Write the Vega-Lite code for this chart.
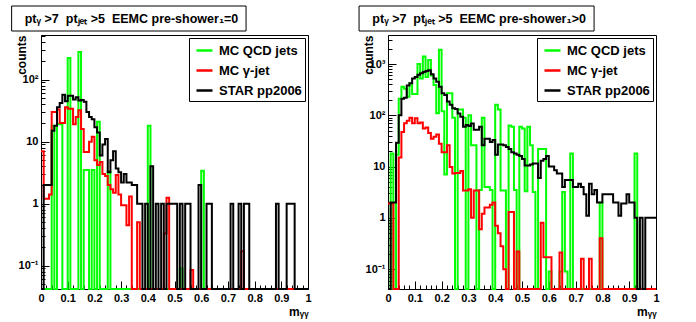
{
  "$schema": "https://vega.github.io/schema/vega-lite/v6.json",
  "background": "white",
  "padding": {"left": 11, "top": 5, "right": 5, "bottom": 2},
  "config": {
    "view": {"stroke": "black", "strokeWidth": 1},
    "font": "Liberation Sans",
    "axis": {"labelFont": "Liberation Sans", "labelFontWeight": "bold", "labelFontSize": 11, "labelColor": "black", "titleFont": "Liberation Sans", "titleFontWeight": "bold", "titleFontSize": 12, "titleColor": "black", "domainColor": "black", "tickColor": "black", "grid": false, "labelOverlap": false, "labelFlush": false}
  },
  "datasets": {
    "left": [
      {"m":0.00,"MC QCD jets":0,"MC γ-jet":7,"STAR pp2006":0},
      {"m":0.01,"MC QCD jets":0,"MC γ-jet":1.2,"STAR pp2006":2},
      {"m":0.02,"MC QCD jets":0,"MC γ-jet":1.2,"STAR pp2006":2},
      {"m":0.03,"MC QCD jets":0,"MC γ-jet":1.4,"STAR pp2006":2},
      {"m":0.04,"MC QCD jets":18,"MC γ-jet":30,"STAR pp2006":15},
      {"m":0.05,"MC QCD jets":0,"MC γ-jet":30,"STAR pp2006":18},
      {"m":0.06,"MC QCD jets":19,"MC γ-jet":33,"STAR pp2006":36},
      {"m":0.07,"MC QCD jets":19,"MC γ-jet":20,"STAR pp2006":42},
      {"m":0.08,"MC QCD jets":0,"MC γ-jet":20,"STAR pp2006":57},
      {"m":0.09,"MC QCD jets":0,"MC γ-jet":36,"STAR pp2006":45},
      {"m":0.10,"MC QCD jets":224,"MC γ-jet":34,"STAR pp2006":55},
      {"m":0.11,"MC QCD jets":0,"MC γ-jet":34,"STAR pp2006":55},
      {"m":0.12,"MC QCD jets":0,"MC γ-jet":19,"STAR pp2006":48},
      {"m":0.13,"MC QCD jets":0,"MC γ-jet":25,"STAR pp2006":52},
      {"m":0.14,"MC QCD jets":280,"MC γ-jet":32,"STAR pp2006":46},
      {"m":0.15,"MC QCD jets":0,"MC γ-jet":16,"STAR pp2006":47},
      {"m":0.16,"MC QCD jets":3.5,"MC γ-jet":6.8,"STAR pp2006":44},
      {"m":0.17,"MC QCD jets":3.5,"MC γ-jet":6.8,"STAR pp2006":30},
      {"m":0.18,"MC QCD jets":0,"MC γ-jet":10,"STAR pp2006":25},
      {"m":0.19,"MC QCD jets":3.5,"MC γ-jet":12,"STAR pp2006":23},
      {"m":0.20,"MC QCD jets":0,"MC γ-jet":5,"STAR pp2006":17},
      {"m":0.21,"MC QCD jets":21,"MC γ-jet":4.2,"STAR pp2006":14},
      {"m":0.22,"MC QCD jets":0,"MC γ-jet":4.7,"STAR pp2006":6},
      {"m":0.23,"MC QCD jets":0,"MC γ-jet":3,"STAR pp2006":9},
      {"m":0.24,"MC QCD jets":0,"MC γ-jet":2.8,"STAR pp2006":11},
      {"m":0.25,"MC QCD jets":3.3,"MC γ-jet":2,"STAR pp2006":3.2},
      {"m":0.26,"MC QCD jets":0,"MC γ-jet":1.7,"STAR pp2006":5},
      {"m":0.27,"MC QCD jets":0,"MC γ-jet":1.5,"STAR pp2006":7},
      {"m":0.28,"MC QCD jets":0,"MC γ-jet":2.9,"STAR pp2006":3.7},
      {"m":0.29,"MC QCD jets":0,"MC γ-jet":1.4,"STAR pp2006":3.2},
      {"m":0.30,"MC QCD jets":0,"MC γ-jet":0.94,"STAR pp2006":2.2},
      {"m":0.31,"MC QCD jets":0,"MC γ-jet":0.94,"STAR pp2006":3},
      {"m":0.32,"MC QCD jets":0,"MC γ-jet":0.45,"STAR pp2006":2.2},
      {"m":0.33,"MC QCD jets":0,"MC γ-jet":1.3,"STAR pp2006":2.2},
      {"m":0.34,"MC QCD jets":0,"MC γ-jet":0,"STAR pp2006":2},
      {"m":0.35,"MC QCD jets":0,"MC γ-jet":0,"STAR pp2006":2},
      {"m":0.36,"MC QCD jets":0,"MC γ-jet":0.5,"STAR pp2006":1},
      {"m":0.37,"MC QCD jets":0,"MC γ-jet":0,"STAR pp2006":1},
      {"m":0.38,"MC QCD jets":0,"MC γ-jet":0,"STAR pp2006":0},
      {"m":0.39,"MC QCD jets":0,"MC γ-jet":0,"STAR pp2006":1},
      {"m":0.40,"MC QCD jets":18,"MC γ-jet":0,"STAR pp2006":0},
      {"m":0.41,"MC QCD jets":0,"MC γ-jet":0,"STAR pp2006":4},
      {"m":0.42,"MC QCD jets":0,"MC γ-jet":0,"STAR pp2006":0},
      {"m":0.43,"MC QCD jets":0,"MC γ-jet":0,"STAR pp2006":1},
      {"m":0.44,"MC QCD jets":0,"MC γ-jet":0,"STAR pp2006":0},
      {"m":0.45,"MC QCD jets":0,"MC γ-jet":0,"STAR pp2006":1},
      {"m":0.46,"MC QCD jets":0,"MC γ-jet":0.33,"STAR pp2006":0},
      {"m":0.47,"MC QCD jets":0,"MC γ-jet":1.25,"STAR pp2006":1},
      {"m":0.48,"MC QCD jets":0,"MC γ-jet":0,"STAR pp2006":1},
      {"m":0.49,"MC QCD jets":0,"MC γ-jet":0,"STAR pp2006":1},
      {"m":0.50,"MC QCD jets":0,"MC γ-jet":0,"STAR pp2006":1},
      {"m":0.51,"MC QCD jets":0,"MC γ-jet":0,"STAR pp2006":0},
      {"m":0.52,"MC QCD jets":0.09,"MC γ-jet":0,"STAR pp2006":1},
      {"m":0.53,"MC QCD jets":0,"MC γ-jet":0,"STAR pp2006":0},
      {"m":0.54,"MC QCD jets":0,"MC γ-jet":0,"STAR pp2006":1},
      {"m":0.55,"MC QCD jets":0,"MC γ-jet":0,"STAR pp2006":1},
      {"m":0.56,"MC QCD jets":0,"MC γ-jet":0.085,"STAR pp2006":0},
      {"m":0.57,"MC QCD jets":0,"MC γ-jet":0,"STAR pp2006":0},
      {"m":0.58,"MC QCD jets":0,"MC γ-jet":0,"STAR pp2006":0},
      {"m":0.59,"MC QCD jets":0,"MC γ-jet":0,"STAR pp2006":2},
      {"m":0.60,"MC QCD jets":3.4,"MC γ-jet":0,"STAR pp2006":0},
      {"m":0.61,"MC QCD jets":0,"MC γ-jet":0,"STAR pp2006":0},
      {"m":0.62,"MC QCD jets":0,"MC γ-jet":0,"STAR pp2006":1},
      {"m":0.63,"MC QCD jets":0,"MC γ-jet":0,"STAR pp2006":1},
      {"m":0.64,"MC QCD jets":0,"MC γ-jet":0,"STAR pp2006":0},
      {"m":0.65,"MC QCD jets":0,"MC γ-jet":0,"STAR pp2006":0},
      {"m":0.66,"MC QCD jets":0,"MC γ-jet":0,"STAR pp2006":0},
      {"m":0.67,"MC QCD jets":0,"MC γ-jet":0,"STAR pp2006":0},
      {"m":0.68,"MC QCD jets":0,"MC γ-jet":0,"STAR pp2006":0},
      {"m":0.69,"MC QCD jets":0,"MC γ-jet":0,"STAR pp2006":0},
      {"m":0.70,"MC QCD jets":0,"MC γ-jet":0,"STAR pp2006":0},
      {"m":0.71,"MC QCD jets":0,"MC γ-jet":0,"STAR pp2006":1},
      {"m":0.72,"MC QCD jets":0,"MC γ-jet":0,"STAR pp2006":0},
      {"m":0.73,"MC QCD jets":0,"MC γ-jet":0,"STAR pp2006":0},
      {"m":0.74,"MC QCD jets":0,"MC γ-jet":0,"STAR pp2006":1},
      {"m":0.75,"MC QCD jets":0,"MC γ-jet":0.17,"STAR pp2006":0},
      {"m":0.76,"MC QCD jets":0,"MC γ-jet":0,"STAR pp2006":1},
      {"m":0.77,"MC QCD jets":0,"MC γ-jet":0,"STAR pp2006":1},
      {"m":0.78,"MC QCD jets":0,"MC γ-jet":0,"STAR pp2006":0},
      {"m":0.79,"MC QCD jets":0,"MC γ-jet":0,"STAR pp2006":0},
      {"m":0.80,"MC QCD jets":0,"MC γ-jet":0,"STAR pp2006":0},
      {"m":0.81,"MC QCD jets":0,"MC γ-jet":0,"STAR pp2006":0},
      {"m":0.82,"MC QCD jets":0,"MC γ-jet":0,"STAR pp2006":0},
      {"m":0.83,"MC QCD jets":0,"MC γ-jet":0,"STAR pp2006":0},
      {"m":0.84,"MC QCD jets":0,"MC γ-jet":0,"STAR pp2006":0},
      {"m":0.85,"MC QCD jets":0,"MC γ-jet":0,"STAR pp2006":0},
      {"m":0.86,"MC QCD jets":0,"MC γ-jet":0,"STAR pp2006":0},
      {"m":0.87,"MC QCD jets":0,"MC γ-jet":0,"STAR pp2006":0},
      {"m":0.88,"MC QCD jets":0,"MC γ-jet":0,"STAR pp2006":1},
      {"m":0.89,"MC QCD jets":0,"MC γ-jet":0,"STAR pp2006":0},
      {"m":0.90,"MC QCD jets":0,"MC γ-jet":0,"STAR pp2006":0},
      {"m":0.91,"MC QCD jets":0,"MC γ-jet":0,"STAR pp2006":0},
      {"m":0.92,"MC QCD jets":0,"MC γ-jet":0,"STAR pp2006":1},
      {"m":0.93,"MC QCD jets":0,"MC γ-jet":0,"STAR pp2006":1},
      {"m":0.94,"MC QCD jets":0,"MC γ-jet":0,"STAR pp2006":1},
      {"m":0.95,"MC QCD jets":0,"MC γ-jet":0,"STAR pp2006":0},
      {"m":0.96,"MC QCD jets":0,"MC γ-jet":0,"STAR pp2006":0},
      {"m":0.97,"MC QCD jets":0,"MC γ-jet":0,"STAR pp2006":0},
      {"m":0.98,"MC QCD jets":0,"MC γ-jet":0,"STAR pp2006":0},
      {"m":0.99,"MC QCD jets":0,"MC γ-jet":0,"STAR pp2006":0},
      {"m":1.00,"MC QCD jets":0,"MC γ-jet":0,"STAR pp2006":0}
    ],
    "right": [
      {"m":0.00,"MC QCD jets":0,"MC γ-jet":1.9,"STAR pp2006":0},
      {"m":0.01,"MC QCD jets":18,"MC γ-jet":1.9,"STAR pp2006":2},
      {"m":0.02,"MC QCD jets":0,"MC γ-jet":0,"STAR pp2006":2},
      {"m":0.03,"MC QCD jets":17,"MC γ-jet":0,"STAR pp2006":29},
      {"m":0.04,"MC QCD jets":210,"MC γ-jet":15,"STAR pp2006":100},
      {"m":0.05,"MC QCD jets":360,"MC γ-jet":47,"STAR pp2006":210},
      {"m":0.06,"MC QCD jets":330,"MC γ-jet":70,"STAR pp2006":220},
      {"m":0.07,"MC QCD jets":230,"MC γ-jet":78,"STAR pp2006":380},
      {"m":0.08,"MC QCD jets":420,"MC γ-jet":90,"STAR pp2006":420},
      {"m":0.09,"MC QCD jets":260,"MC γ-jet":70,"STAR pp2006":520},
      {"m":0.10,"MC QCD jets":260,"MC γ-jet":88,"STAR pp2006":560},
      {"m":0.11,"MC QCD jets":1000,"MC γ-jet":70,"STAR pp2006":620},
      {"m":0.12,"MC QCD jets":520,"MC γ-jet":72,"STAR pp2006":660},
      {"m":0.13,"MC QCD jets":1400,"MC γ-jet":55,"STAR pp2006":700},
      {"m":0.14,"MC QCD jets":560,"MC γ-jet":58,"STAR pp2006":730},
      {"m":0.15,"MC QCD jets":1200,"MC γ-jet":45,"STAR pp2006":760},
      {"m":0.16,"MC QCD jets":600,"MC γ-jet":35,"STAR pp2006":630},
      {"m":0.17,"MC QCD jets":390,"MC γ-jet":38,"STAR pp2006":520},
      {"m":0.18,"MC QCD jets":110,"MC γ-jet":42,"STAR pp2006":450},
      {"m":0.19,"MC QCD jets":1900,"MC γ-jet":28,"STAR pp2006":360},
      {"m":0.20,"MC QCD jets":120,"MC γ-jet":19,"STAR pp2006":270},
      {"m":0.21,"MC QCD jets":7,"MC γ-jet":19,"STAR pp2006":250},
      {"m":0.22,"MC QCD jets":270,"MC γ-jet":26,"STAR pp2006":185},
      {"m":0.23,"MC QCD jets":270,"MC γ-jet":9.8,"STAR pp2006":160},
      {"m":0.24,"MC QCD jets":90,"MC γ-jet":7.3,"STAR pp2006":137},
      {"m":0.25,"MC QCD jets":0,"MC γ-jet":7.5,"STAR pp2006":132},
      {"m":0.26,"MC QCD jets":130,"MC γ-jet":7.5,"STAR pp2006":109},
      {"m":0.27,"MC QCD jets":130,"MC γ-jet":8.2,"STAR pp2006":94},
      {"m":0.28,"MC QCD jets":90,"MC γ-jet":3.4,"STAR pp2006":60},
      {"m":0.29,"MC QCD jets":0,"MC γ-jet":3.4,"STAR pp2006":65},
      {"m":0.30,"MC QCD jets":100,"MC γ-jet":3.6,"STAR pp2006":62},
      {"m":0.31,"MC QCD jets":26,"MC γ-jet":1,"STAR pp2006":69},
      {"m":0.32,"MC QCD jets":26,"MC γ-jet":3.4,"STAR pp2006":52},
      {"m":0.33,"MC QCD jets":0,"MC γ-jet":3.4,"STAR pp2006":52},
      {"m":0.34,"MC QCD jets":3.5,"MC γ-jet":0.6,"STAR pp2006":60},
      {"m":0.35,"MC QCD jets":90,"MC γ-jet":1.2,"STAR pp2006":26},
      {"m":0.36,"MC QCD jets":4,"MC γ-jet":1.6,"STAR pp2006":35},
      {"m":0.37,"MC QCD jets":4,"MC γ-jet":1.6,"STAR pp2006":35},
      {"m":0.38,"MC QCD jets":3.5,"MC γ-jet":1.8,"STAR pp2006":30},
      {"m":0.39,"MC QCD jets":0,"MC γ-jet":2,"STAR pp2006":33},
      {"m":0.40,"MC QCD jets":160,"MC γ-jet":0.7,"STAR pp2006":17},
      {"m":0.41,"MC QCD jets":130,"MC γ-jet":0.5,"STAR pp2006":27},
      {"m":0.42,"MC QCD jets":3.4,"MC γ-jet":0.28,"STAR pp2006":27},
      {"m":0.43,"MC QCD jets":3.4,"MC γ-jet":0.1,"STAR pp2006":26},
      {"m":0.44,"MC QCD jets":0,"MC γ-jet":0,"STAR pp2006":24},
      {"m":0.45,"MC QCD jets":63,"MC γ-jet":1.3,"STAR pp2006":22},
      {"m":0.46,"MC QCD jets":60,"MC γ-jet":1.3,"STAR pp2006":19},
      {"m":0.47,"MC QCD jets":3.5,"MC γ-jet":0,"STAR pp2006":18},
      {"m":0.48,"MC QCD jets":0,"MC γ-jet":0.22,"STAR pp2006":17},
      {"m":0.49,"MC QCD jets":60,"MC γ-jet":0,"STAR pp2006":16},
      {"m":0.50,"MC QCD jets":55,"MC γ-jet":0,"STAR pp2006":14},
      {"m":0.51,"MC QCD jets":3.3,"MC γ-jet":0,"STAR pp2006":10.5},
      {"m":0.52,"MC QCD jets":60,"MC γ-jet":0,"STAR pp2006":10.5},
      {"m":0.53,"MC QCD jets":26,"MC γ-jet":0,"STAR pp2006":11},
      {"m":0.54,"MC QCD jets":3.2,"MC γ-jet":0,"STAR pp2006":11.5},
      {"m":0.55,"MC QCD jets":0,"MC γ-jet":0,"STAR pp2006":11.5},
      {"m":0.56,"MC QCD jets":22,"MC γ-jet":0,"STAR pp2006":6},
      {"m":0.57,"MC QCD jets":22,"MC γ-jet":0.8,"STAR pp2006":13},
      {"m":0.58,"MC QCD jets":22,"MC γ-jet":0.17,"STAR pp2006":14},
      {"m":0.59,"MC QCD jets":0,"MC γ-jet":0.17,"STAR pp2006":16},
      {"m":0.60,"MC QCD jets":0.09,"MC γ-jet":0.17,"STAR pp2006":10},
      {"m":0.61,"MC QCD jets":0,"MC γ-jet":0,"STAR pp2006":10},
      {"m":0.62,"MC QCD jets":0,"MC γ-jet":0,"STAR pp2006":8.5},
      {"m":0.63,"MC QCD jets":0,"MC γ-jet":0,"STAR pp2006":7.3},
      {"m":0.64,"MC QCD jets":0.09,"MC γ-jet":0.21,"STAR pp2006":7.3},
      {"m":0.65,"MC QCD jets":3.2,"MC γ-jet":0,"STAR pp2006":4},
      {"m":0.66,"MC QCD jets":0.09,"MC γ-jet":0,"STAR pp2006":5.5},
      {"m":0.67,"MC QCD jets":0,"MC γ-jet":0,"STAR pp2006":5.5},
      {"m":0.68,"MC QCD jets":18,"MC γ-jet":0,"STAR pp2006":5.5},
      {"m":0.69,"MC QCD jets":0,"MC γ-jet":0,"STAR pp2006":4},
      {"m":0.70,"MC QCD jets":0,"MC γ-jet":0,"STAR pp2006":4},
      {"m":0.71,"MC QCD jets":0,"MC γ-jet":0,"STAR pp2006":4.6},
      {"m":0.72,"MC QCD jets":0,"MC γ-jet":0.16,"STAR pp2006":4},
      {"m":0.73,"MC QCD jets":0,"MC γ-jet":0,"STAR pp2006":2.9},
      {"m":0.74,"MC QCD jets":0,"MC γ-jet":0,"STAR pp2006":1.1},
      {"m":0.75,"MC QCD jets":0,"MC γ-jet":0.16,"STAR pp2006":4.6},
      {"m":0.76,"MC QCD jets":0,"MC γ-jet":0,"STAR pp2006":2.9},
      {"m":0.77,"MC QCD jets":0,"MC γ-jet":0,"STAR pp2006":3.5},
      {"m":0.78,"MC QCD jets":0,"MC γ-jet":0,"STAR pp2006":2},
      {"m":0.79,"MC QCD jets":2,"MC γ-jet":0.4,"STAR pp2006":2},
      {"m":0.80,"MC QCD jets":0,"MC γ-jet":0,"STAR pp2006":2.9},
      {"m":0.81,"MC QCD jets":0,"MC γ-jet":0,"STAR pp2006":2.9},
      {"m":0.82,"MC QCD jets":0,"MC γ-jet":0,"STAR pp2006":2.9},
      {"m":0.83,"MC QCD jets":0,"MC γ-jet":0,"STAR pp2006":2.9},
      {"m":0.84,"MC QCD jets":0,"MC γ-jet":0,"STAR pp2006":2},
      {"m":0.85,"MC QCD jets":0,"MC γ-jet":0,"STAR pp2006":2},
      {"m":0.86,"MC QCD jets":0,"MC γ-jet":0,"STAR pp2006":1.1},
      {"m":0.87,"MC QCD jets":0,"MC γ-jet":0,"STAR pp2006":1.9},
      {"m":0.88,"MC QCD jets":0,"MC γ-jet":0,"STAR pp2006":1.9},
      {"m":0.89,"MC QCD jets":0,"MC γ-jet":0,"STAR pp2006":2.9},
      {"m":0.90,"MC QCD jets":0,"MC γ-jet":0,"STAR pp2006":2},
      {"m":0.91,"MC QCD jets":0,"MC γ-jet":0,"STAR pp2006":2},
      {"m":0.92,"MC QCD jets":18,"MC γ-jet":0,"STAR pp2006":1},
      {"m":0.93,"MC QCD jets":0,"MC γ-jet":0,"STAR pp2006":0},
      {"m":0.94,"MC QCD jets":0,"MC γ-jet":0,"STAR pp2006":1},
      {"m":0.95,"MC QCD jets":0,"MC γ-jet":0,"STAR pp2006":0},
      {"m":0.96,"MC QCD jets":0,"MC γ-jet":0,"STAR pp2006":1},
      {"m":0.97,"MC QCD jets":0,"MC γ-jet":0,"STAR pp2006":1},
      {"m":0.98,"MC QCD jets":0,"MC γ-jet":0,"STAR pp2006":1},
      {"m":0.99,"MC QCD jets":0,"MC γ-jet":0,"STAR pp2006":1},
      {"m":1.00,"MC QCD jets":0,"MC γ-jet":0,"STAR pp2006":1}
    ]
  },
  "columns": 2,
  "spacing": {"row": -3, "column": 45},
  "resolve": {"scale": {"color": "independent"}, "legend": {"color": "independent"}},
  "concat": [
    {
      "width": 267, "height": 25,
      "view": {"stroke": null},
      "data": {"values": [{"t": "ptᵧ >7\u00a0\u00a0ptⱼₑₜ >5\u00a0\u00a0EEMC pre-shower₁=0"}]},
      "layer": [
        {"mark": {"type": "rect", "fill": "white", "stroke": "black", "strokeWidth": 1},
         "encoding": {
           "x": {"datum": -0.11, "type": "quantitative", "scale": {"domain": [0, 1], "nice": false}, "axis": null},
           "x2": {"datum": 0.768},
           "y": {"datum": 0, "type": "quantitative", "scale": {"domain": [0, 1], "nice": false}, "axis": null},
           "y2": {"datum": 1}}},
        {"mark": {"type": "text", "font": "Liberation Sans", "fontWeight": "bold", "fontSize": 12.5, "align": "center", "baseline": "middle", "color": "black"},
         "encoding": {
           "x": {"datum": 0.339, "type": "quantitative"},
           "y": {"datum": 0.5, "type": "quantitative"},
           "text": {"field": "t"}}}
      ]
    },
    {
      "width": 268, "height": 25,
      "view": {"stroke": null},
      "data": {"values": [{"t": "ptᵧ >7\u00a0\u00a0ptⱼₑₜ >5\u00a0\u00a0EEMC pre-shower₁>0"}]},
      "layer": [
        {"mark": {"type": "rect", "fill": "white", "stroke": "black", "strokeWidth": 1},
         "encoding": {
           "x": {"datum": -0.108, "type": "quantitative", "scale": {"domain": [0, 1], "nice": false}, "axis": null},
           "x2": {"datum": 0.769},
           "y": {"datum": 0, "type": "quantitative", "scale": {"domain": [0, 1], "nice": false}, "axis": null},
           "y2": {"datum": 1}}},
        {"mark": {"type": "text", "font": "Liberation Sans", "fontWeight": "bold", "fontSize": 12.5, "align": "center", "baseline": "middle", "color": "black"},
         "encoding": {
           "x": {"datum": 0.34, "type": "quantitative"},
           "y": {"datum": 0.5, "type": "quantitative"},
           "text": {"field": "t"}}}
      ]
    },
    {
      "width": 267, "height": 254,
      "data": {"name": "left"},
      "transform": [{"fold": ["MC QCD jets", "MC γ-jet", "STAR pp2006"], "as": ["series", "count"]}],
      "mark": {"type": "line", "interpolate": "step-after", "strokeWidth": 2},
      "encoding": {
        "x": {"field": "m", "type": "quantitative", "scale": {"domain": [0, 1], "nice": false},
          "axis": {"values": [0,0.02,0.04,0.06,0.08,0.1,0.12,0.14,0.16,0.18,0.2,0.22,0.24,0.26,0.28,0.3,0.32,0.34,0.36,0.38,0.4,0.42,0.44,0.46,0.48,0.5,0.52,0.54,0.56,0.58,0.6,0.62,0.64,0.66,0.68,0.7,0.72,0.74,0.76,0.78,0.8,0.82,0.84,0.86,0.88,0.9,0.92,0.94,0.96,0.98,1],
            "labelExpr": "abs(datum.value*10 - round(datum.value*10)) < 0.001 ? format(datum.value, '.1~f') : ''",
            "tickSize": {"condition": {"test": "abs(datum.value*10 - round(datum.value*10)) < 0.001", "value": -8}, "value": -4},
            "labelPadding": 11, "title": "mᵧᵧ", "titleAnchor": "end", "titleAlign": "right", "titlePadding": -1}},
        "y": {"field": "count", "type": "quantitative", "scale": {"type": "log", "domain": [0.042, 525], "clamp": true, "nice": false},
          "axis": {"values": [0.05,0.06,0.07,0.08,0.09,0.1,0.2,0.3,0.4,0.5,0.6,0.7,0.8,0.9,1,2,3,4,5,6,7,8,9,10,20,30,40,50,60,70,80,90,100,200,300,400,500],
            "labelExpr": "datum.value == 0.1 ? '10⁻¹' : datum.value == 1 ? '1' : datum.value == 10 ? '10' : datum.value == 100 ? '10²' : datum.value == 1000 ? '10³' : ''",
            "tickSize": {"condition": {"test": "indexof([0.1,1,10,100,1000], datum.value) >= 0", "value": -8}, "value": -4},
            "labelPadding": 11, "title": "counts", "titleAngle": 270, "titleAlign": "right", "titleBaseline": "middle", "titleX": -20, "titleY": 0}},
        "color": {"field": "series", "type": "nominal",
          "scale": {"domain": ["MC QCD jets", "MC γ-jet", "STAR pp2006"], "range": ["#00ff00", "#ff0000", "#000000"]},
          "legend": {"orient": "top-right", "offset": 3, "title": null, "symbolType": "stroke", "symbolSize": 256, "symbolStrokeWidth": 2.5, "labelFont": "Liberation Sans", "labelFontWeight": "bold", "labelFontSize": 13, "labelColor": "black", "rowPadding": 3, "padding": 3, "strokeColor": "black", "fillColor": "white", "labelOffset": 5, "symbolOffset": 3, "labelExpr": "datum.label + '\u00a0\u00a0\u00a0\u00a0\u00a0\u00a0'"}}
      }
    },
    {
      "width": 268, "height": 254,
      "data": {"name": "right"},
      "transform": [{"fold": ["MC QCD jets", "MC γ-jet", "STAR pp2006"], "as": ["series", "count"]}],
      "mark": {"type": "line", "interpolate": "step-after", "strokeWidth": 2},
      "encoding": {
        "x": {"field": "m", "type": "quantitative", "scale": {"domain": [0, 1], "nice": false},
          "axis": {"values": [0,0.02,0.04,0.06,0.08,0.1,0.12,0.14,0.16,0.18,0.2,0.22,0.24,0.26,0.28,0.3,0.32,0.34,0.36,0.38,0.4,0.42,0.44,0.46,0.48,0.5,0.52,0.54,0.56,0.58,0.6,0.62,0.64,0.66,0.68,0.7,0.72,0.74,0.76,0.78,0.8,0.82,0.84,0.86,0.88,0.9,0.92,0.94,0.96,0.98,1],
            "labelExpr": "abs(datum.value*10 - round(datum.value*10)) < 0.001 ? format(datum.value, '.1~f') : ''",
            "tickSize": {"condition": {"test": "abs(datum.value*10 - round(datum.value*10)) < 0.001", "value": -8}, "value": -4},
            "labelPadding": 11, "title": "mᵧᵧ", "titleAnchor": "end", "titleAlign": "right", "titlePadding": -1}},
        "y": {"field": "count", "type": "quantitative", "scale": {"type": "log", "domain": [0.041, 3680], "clamp": true, "nice": false},
          "axis": {"values": [0.05,0.06,0.07,0.08,0.09,0.1,0.2,0.3,0.4,0.5,0.6,0.7,0.8,0.9,1,2,3,4,5,6,7,8,9,10,20,30,40,50,60,70,80,90,100,200,300,400,500,600,700,800,900,1000,2000,3000],
            "labelExpr": "datum.value == 0.1 ? '10⁻¹' : datum.value == 1 ? '1' : datum.value == 10 ? '10' : datum.value == 100 ? '10²' : datum.value == 1000 ? '10³' : ''",
            "tickSize": {"condition": {"test": "indexof([0.1,1,10,100,1000], datum.value) >= 0", "value": -8}, "value": -4},
            "labelPadding": 11, "title": "counts", "titleAngle": 270, "titleAlign": "right", "titleBaseline": "middle", "titleX": -20, "titleY": 0}},
        "color": {"field": "series", "type": "nominal",
          "scale": {"domain": ["MC QCD jets", "MC γ-jet", "STAR pp2006"], "range": ["#00ff00", "#ff0000", "#000000"]},
          "legend": {"orient": "top-right", "offset": 3, "title": null, "symbolType": "stroke", "symbolSize": 256, "symbolStrokeWidth": 2.5, "labelFont": "Liberation Sans", "labelFontWeight": "bold", "labelFontSize": 13, "labelColor": "black", "rowPadding": 3, "padding": 3, "strokeColor": "black", "fillColor": "white", "labelOffset": 5, "symbolOffset": 3, "labelExpr": "datum.label + '\u00a0\u00a0\u00a0\u00a0\u00a0\u00a0'"}}
      }
    }
  ]
}
